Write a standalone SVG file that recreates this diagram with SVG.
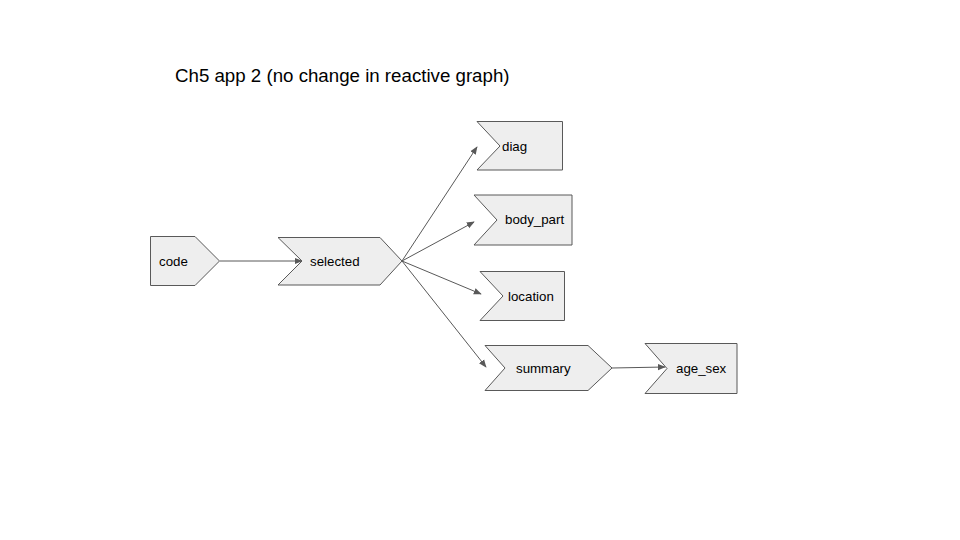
<svg xmlns="http://www.w3.org/2000/svg" width="960" height="540" viewBox="0 0 960 540">
<style>
.n{fill:#eeeeee;stroke:#595959;stroke-width:1}
.t{font-family:"Liberation Sans",Arial,sans-serif;font-size:13.3px;fill:#000}
.c{stroke:#595959;stroke-width:1;fill:none;marker-end:url(#a)}
</style>
<defs>
<marker id="a" viewBox="0 0 10 10" refX="9" refY="5" markerWidth="8" markerHeight="8" markerUnits="userSpaceOnUse" orient="auto">
<path d="M0,1 L10,5 L0,9 Z" fill="#595959"/>
</marker>
</defs>
<rect width="960" height="540" fill="#fff"/>
<text x="175" y="82" style="font-family:'Liberation Sans',Arial,sans-serif;font-size:18.7px;fill:#000">Ch5 app 2 (no change in reactive graph)</text>
<g id="connectors">
<line class="c" x1="220" y1="261" x2="302" y2="261"/>
<line class="c" x1="402" y1="261" x2="477" y2="147"/>
<line class="c" x1="402" y1="261" x2="474" y2="222"/>
<line class="c" x1="402" y1="261" x2="481" y2="294"/>
<line class="c" x1="402" y1="261" x2="486" y2="367"/>
<line class="c" x1="612" y1="368" x2="665" y2="367"/>
</g>
<g id="code"><path class="n" d="M150.5,236.5 H195 L219.5,261 L195,285.5 H150.5 Z"/><text class="t" x="159" y="266">code</text></g>
<g id="selected"><path class="n" d="M278,237.5 H380 L402,261 L380,285 H278 L302,261 Z"/><text class="t" x="310" y="266">selected</text></g>
<g id="diag"><path class="n" d="M477,121.5 H562.5 V170 H477 L500,146 Z"/><text class="t" x="502" y="151">diag</text></g>
<g id="body_part"><path class="n" d="M474,195 H572 V245 H474 L497,220 Z"/><text class="t" x="505" y="224">body_part</text></g>
<g id="location"><path class="n" d="M480,271.5 H564.5 V320.5 H480 L503,296 Z"/><text class="t" x="508" y="301">location</text></g>
<g id="summary"><path class="n" d="M485,345.5 H588 L612,368 L588,390.5 H485 L505,368 Z"/><text class="t" x="516" y="373">summary</text></g>
<g id="age_sex"><path class="n" d="M645,343.5 H737 V393.5 H645 L667,368.5 Z"/><text class="t" x="676" y="373">age_sex</text></g>
</svg>
